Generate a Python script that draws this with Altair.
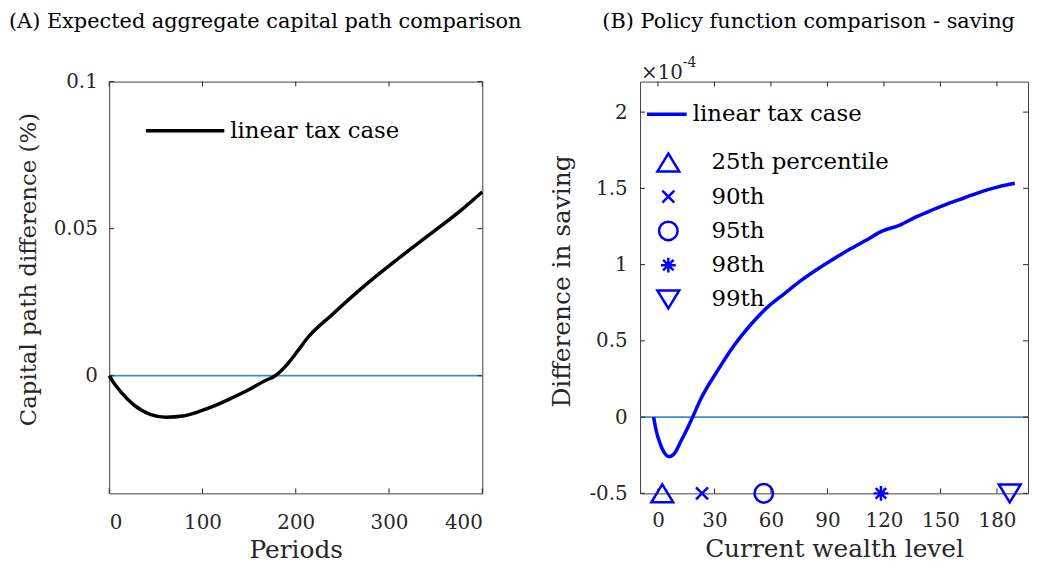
import altair as alt
import pandas as pd

FONT = "DejaVu Serif"

# ---------------- Panel A data ----------------
periods = [0, 5, 12, 26, 44, 61, 79, 96, 114, 132, 150, 167, 178, 192, 203, 213, 238, 273, 309, 344, 380, 400]
capital_diff = [0.0, -0.0025, -0.0053, -0.0098, -0.0131, -0.0141, -0.0137, -0.0122, -0.0101, -0.0075,
                -0.0047, -0.0017, 0.0, 0.0043, 0.0088, 0.0130, 0.0205, 0.0304, 0.0396, 0.0481, 0.0570, 0.0625]
xticks_a = [0, 100, 200, 300, 400]
yticks_a = [0, 0.05, 0.1]
series_a = "linear tax case"

# ---------------- Panel B data (saving difference, units of 1e-4) ----------------
wealth = [-2.3, -0.9, 0.9, 3.2, 5.8, 8.8, 12.3, 15.8, 18.4, 22.8, 31.4, 40.4, 49.1, 57.9, 66.7, 75.5,
          84.2, 93.0, 101.8, 110.5, 119.3, 128.1, 136.8, 145.6, 154.4, 163.2, 171.9, 180.7, 189.5]
saving_diff = [0.0, -0.09, -0.166, -0.23, -0.259, -0.237, -0.155, -0.069, 0.0, 0.12, 0.30, 0.47, 0.604,
               0.718, 0.805, 0.891, 0.966, 1.035, 1.100, 1.160, 1.221, 1.257, 1.311, 1.358, 1.402, 1.440,
               1.479, 1.510, 1.533]
series_b = "linear tax case"
pct_labels = ["25th percentile", "90th", "95th", "98th", "99th"]
pct_wealth = [2.3, 23.4, 56.2, 118.4, 186.8]
pct_level = [-0.5, -0.5, -0.5, -0.5, -0.5]
xticks_b = [0, 30, 60, 90, 120, 150, 180]
yticks_b = [-0.5, 0, 0.5, 1, 1.5, 2]
exp_base = "×10"
exp_power = "-4"

# marker glyphs (triangle-up, x, circle, asterisk, triangle-down)
shape_paths = [
    "M0,-0.82L1,0.82L-1,0.82Z",
    "M-0.55,-0.55L0.55,0.55M-0.55,0.55L0.55,-0.55",
    "M0.85,0A0.85,0.85,0,1,1,-0.85,0A0.85,0.85,0,1,1,0.85,0Z",
    "M-0.68,0L0.68,0M0,-0.68L0,0.68M-0.48,-0.48L0.48,0.48M-0.48,0.48L0.48,-0.48",
    "M0,0.82L1,-0.82L-1,-0.82Z",
]

W_A, W_B, H = 376, 391, 415
TICK = 5
ZERO_COLOR = "#3C8ECF"
BLUE = "#0000FF"
AX = "#262626"

# ---------------- Panel A ----------------
dfA = pd.DataFrame({"period": periods, "diff": capital_diff, "series": series_a})
xA = alt.X("period:Q", scale=alt.Scale(domain=[0, 400], nice=False, zero=False),
           axis=alt.Axis(values=xticks_a, title="Periods", labelPadding=19, titlePadding=6))
yA = alt.Y("diff:Q", scale=alt.Scale(domain=[-0.04, 0.1], nice=False, zero=False),
           axis=alt.Axis(values=yticks_a, format="~g", title="Capital path difference (%)",
                         labelPadding=12, titlePadding=13, titleY=189, titleFontSize=23))

zeroA = alt.Chart(pd.DataFrame({"diff": [0.0]})).mark_rule(color=ZERO_COLOR, strokeWidth=1.8).encode(y=yA)
lineA = alt.Chart(dfA).mark_line(strokeWidth=3.5, interpolate="monotone").encode(
    x=xA, y=yA,
    color=alt.Color("series:N", scale=alt.Scale(range=["#000000"]),
                    legend=alt.Legend(orient="none", legendX=35, legendY=8, title=None,
                                      symbolType="stroke", symbolSize=6241, symbolStrokeWidth=3.5,
                                      labelOffset=4, labelFont=FONT, labelFontSize=23,
                                      labelColor="#000000", padding=0)))
dxA = pd.DataFrame({"period": xticks_a})
dyA = pd.DataFrame({"diff": yticks_a})
tA_bot = alt.Chart(dxA).mark_rule(color=AX).encode(x=xA, y=alt.value(H), y2=alt.value(H - TICK))
tA_top = alt.Chart(dxA).mark_rule(color=AX).encode(x=xA, y=alt.value(0), y2=alt.value(TICK))
tA_l = alt.Chart(dyA).mark_rule(color=AX).encode(y=yA, x=alt.value(0), x2=alt.value(TICK))
tA_r = alt.Chart(dyA).mark_rule(color=AX).encode(y=yA, x=alt.value(W_A), x2=alt.value(W_A - TICK))

panelA = alt.layer(zeroA, lineA, tA_bot, tA_top, tA_l, tA_r).properties(
    width=W_A, height=H,
    title=alt.TitleParams("(A) Expected aggregate capital path comparison", anchor="start",
                          dx=-101, offset=40))

# ---------------- Panel B ----------------
dfB = pd.DataFrame({"wealth": wealth, "sav": saving_diff, "series": series_b})
dfP = pd.DataFrame({"wealth": pct_wealth, "sav": pct_level, "pct": pct_labels})
xB = alt.X("wealth:Q", scale=alt.Scale(domain=[-9.5, 196.5], nice=False, zero=False),
           axis=alt.Axis(values=xticks_b, title="Current wealth level", labelPadding=17.5, titlePadding=6))
yB = alt.Y("sav:Q", scale=alt.Scale(domain=[-0.5, 2.2], nice=False, zero=False),
           axis=alt.Axis(values=yticks_b, title="Difference in saving",
                         labelExpr="datum.value < 0 ? '-' + format(-datum.value, '~g') : format(datum.value, '~g')",
                         labelPadding=13, titlePadding=15, titleY=201))

zeroB = alt.Chart(pd.DataFrame({"sav": [0.0]})).mark_rule(color=ZERO_COLOR, strokeWidth=1.8).encode(y=yB)
lineB = alt.Chart(dfB).mark_line(strokeWidth=3.5, interpolate="monotone").encode(
    x=xB, y=yB,
    color=alt.Color("series:N", scale=alt.Scale(range=[BLUE]),
                    legend=alt.Legend(orient="none", legendX=5, legendY=11, title=None,
                                      symbolType="stroke", symbolSize=1600, symbolStrokeWidth=3.5,
                                      labelOffset=4, labelFont=FONT, labelFontSize=23,
                                      labelColor="#000000", padding=0)))
pts = alt.Chart(dfP).mark_point(filled=False, strokeWidth=2.5, color=BLUE, size=484, opacity=1).encode(
    x=xB, y=yB,
    shape=alt.Shape("pct:N", scale=alt.Scale(domain=pct_labels, range=shape_paths),
                    legend=alt.Legend(orient="none", legendX=16, legendY=69, title=None,
                                      symbolSize=484, symbolStrokeWidth=2.5, symbolStrokeColor=BLUE,
                                      symbolFillColor="transparent", symbolOpacity=1,
                                      labelOffset=31, labelFont=FONT, labelFontSize=23,
                                      labelColor="#000000", rowPadding=7.5, padding=0)))
dxB = pd.DataFrame({"wealth": xticks_b})
dyB = pd.DataFrame({"sav": yticks_b})
tB_bot = alt.Chart(dxB).mark_rule(color=AX).encode(x=xB, y=alt.value(H), y2=alt.value(H - TICK))
tB_top = alt.Chart(dxB).mark_rule(color=AX).encode(x=xB, y=alt.value(0), y2=alt.value(TICK))
tB_l = alt.Chart(dyB).mark_rule(color=AX).encode(y=yB, x=alt.value(0), x2=alt.value(TICK))
tB_r = alt.Chart(dyB).mark_rule(color=AX).encode(y=yB, x=alt.value(W_B), x2=alt.value(W_B - TICK))
expo1 = alt.Chart(pd.DataFrame({"t": [exp_base]})).mark_text(
    align="left", baseline="alphabetic", font=FONT, fontSize=20, color=AX).encode(
    text="t:N", x=alt.value(1), y=alt.value(-3))
expo2 = alt.Chart(pd.DataFrame({"t": [exp_power]})).mark_text(
    align="left", baseline="alphabetic", font=FONT, fontSize=14, color=AX).encode(
    text="t:N", x=alt.value(43), y=alt.value(-15))

panelB = alt.layer(zeroB, lineB, pts, tB_bot, tB_top, tB_l, tB_r, expo1, expo2).properties(
    width=W_B, height=H,
    title=alt.TitleParams("(B) Policy function comparison - saving", anchor="start",
                          dx=-38, offset=24))

chart = alt.hconcat(panelA, panelB, spacing=159, bounds="flush").resolve_scale(
    color="independent", shape="independent").properties(
    padding={"left": 0, "top": 0, "right": 0, "bottom": -3}
).configure_axis(
    grid=False, domain=False, ticks=False, labelFont=FONT, labelFontSize=20, labelColor=AX,
    titleFont=FONT, titleFontSize=25, titleFontWeight="normal", titleColor=AX
).configure_view(stroke="#404040", strokeWidth=1).configure_title(
    font=FONT, fontSize=21, fontWeight="normal", color="#000000", frame="group"
).configure_legend(labelLimit=400)

chart.save("out.html", embed_options={"renderer": "svg", "actions": False})
